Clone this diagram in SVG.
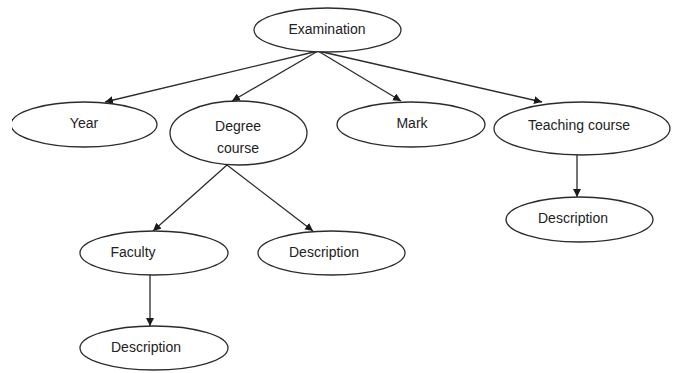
<svg xmlns="http://www.w3.org/2000/svg" width="676" height="373" viewBox="0 0 676 373">
<style>
.n ellipse{fill:#fff;stroke:#2b2b2b;stroke-width:1.3}
.n text{font-family:"Liberation Sans",Arial,sans-serif;font-size:14px;fill:#222;text-anchor:middle}
.c line{stroke:#2b2b2b;stroke-width:1.3;marker-end:url(#ah)}
</style>
<defs>
<marker id="ah" viewBox="0 0 10 10" refX="10" refY="5" markerWidth="8" markerHeight="8" markerUnits="userSpaceOnUse" orient="auto">
<path d="M0,0 L10,5 L0,10 z" fill="#1a1a1a"/>
</marker>
<clipPath id="clipYear"><rect x="12" y="0" width="664" height="373"/></clipPath>
</defs>
<rect width="676" height="373" fill="#fff"/>
<g class="c">
<line x1="318" y1="51" x2="105" y2="102"/>
<line x1="318" y1="51" x2="232" y2="101"/>
<line x1="318" y1="51" x2="401" y2="101"/>
<line x1="318" y1="51" x2="542" y2="102"/>
<line x1="227" y1="165" x2="153" y2="231"/>
<line x1="227" y1="165" x2="313" y2="231"/>
<line x1="150" y1="275" x2="150" y2="326"/>
<line x1="577" y1="155" x2="577" y2="197"/>
</g>
<g id="examination" class="n"><ellipse cx="327.5" cy="30" rx="73.5" ry="22"/><text x="327" y="34">Examination</text></g>
<g id="year" class="n" clip-path="url(#clipYear)"><ellipse cx="84" cy="124.5" rx="73" ry="22.5"/><text x="84" y="128">Year</text></g>
<g id="degree" class="n"><ellipse cx="238.5" cy="133" rx="68.5" ry="32"/><text x="238" y="131">Degree</text><text x="238" y="153">course</text></g>
<g id="mark" class="n"><ellipse cx="411" cy="124.5" rx="74" ry="22.5"/><text x="412" y="128">Mark</text></g>
<g id="teaching" class="n"><ellipse cx="582" cy="128.5" rx="88" ry="26.5"/><text x="579" y="130">Teaching course</text></g>
<g id="desc-teaching" class="n"><ellipse cx="579.5" cy="219.5" rx="73.5" ry="22.5"/><text x="573" y="223">Description</text></g>
<g id="faculty" class="n"><ellipse cx="154" cy="253" rx="74" ry="22"/><text x="133" y="257">Faculty</text></g>
<g id="desc-degree" class="n"><ellipse cx="331.5" cy="253" rx="73.5" ry="22"/><text x="324" y="257">Description</text></g>
<g id="desc-faculty" class="n"><ellipse cx="154" cy="348" rx="74" ry="22"/><text x="146" y="352">Description</text></g>
</svg>
